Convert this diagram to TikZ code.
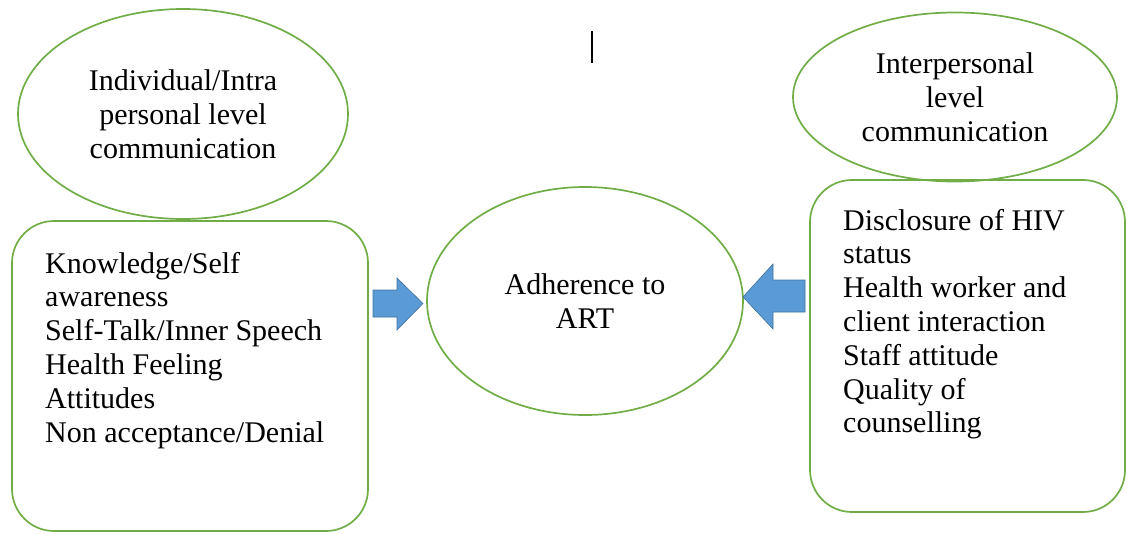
\documentclass[tikz,border=0pt]{standalone}
\usepackage{fontspec}
\setmainfont{Liberation Serif}
\usetikzlibrary{shapes.geometric}
\definecolor{oline}{HTML}{70AD47}
\definecolor{afill}{HTML}{5B9BD5}
\definecolor{aline}{HTML}{41719C}
\tikzset{
  bubble/.style={ellipse, draw=oline, line width=1.7pt, inner sep=0pt, align=center,
    font=\fontsize{30}{33.8}\selectfont},
  box/.style={draw=oline, line width=1.7pt, rounded corners=42pt, inner sep=0pt},
  listtext/.style={anchor=north west, inner sep=0pt, align=left,
    font=\fontsize{30}{33.8}\selectfont},
  blockarrow/.style={fill=afill, draw=aline, line width=0.6pt, line join=miter},
}
\begin{document}
\begin{tikzpicture}[x=1pt,y=-1pt]
\useasboundingbox (0,0) rectangle (1127,533);
% left side
\node[bubble, minimum width=330pt, minimum height=210pt] (indiv) at (183,114)
  {Individual/Intra\\personal level\\communication};
\draw[box] (12,221) rectangle (368,531);
\node[listtext] (indivlist) at (45,249.3)
  {\strut Knowledge/Self\\awareness\\Self-Talk/Inner Speech\\Health Feeling\\Attitudes\\Non acceptance/Denial};
% centre
\node[bubble, minimum width=316pt, minimum height=228pt] (art) at (585,301)
  {Adherence to\\ART};
% right side
\node[bubble, minimum width=324pt, minimum height=169pt] (inter) at (955,97)
  {Interpersonal\\level\\communication};
\draw[box] (810,180) rectangle (1125,512);
\node[listtext] (interlist) at (843,206.3)
  {\strut Disclosure of HIV\\status\\Health worker and\\client interaction\\Staff attitude\\Quality of\\counselling};
% block arrows
\draw[blockarrow] (373,290) -- (397,290) -- (397,278) -- (423,303.5) -- (397,330) -- (397,317) -- (373,317) -- cycle;
\draw[blockarrow] (805,280) -- (773,280) -- (773,264) -- (743,297) -- (773,329) -- (773,312) -- (805,312) -- cycle;
% text cursor
\coordinate (curtop) at (592,31);
\coordinate (curbot) at (592,63);
\draw[line width=1.3pt] (curtop) -- (curbot);
\end{tikzpicture}
\end{document}
